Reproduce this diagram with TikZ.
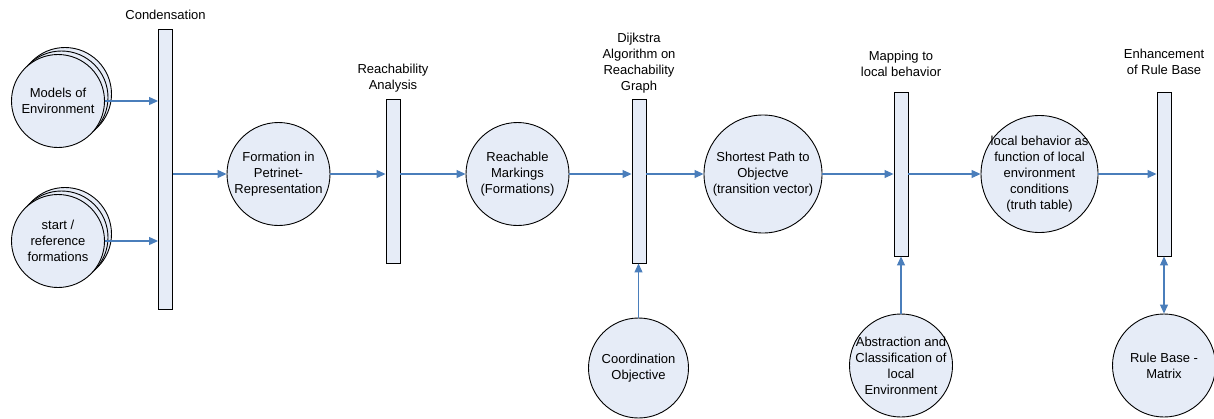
\documentclass[tikz,border=0pt]{standalone}
\usepackage{fontspec}
\setmainfont{Liberation Sans}
\usetikzlibrary{arrows.meta}
\definecolor{flowblue}{HTML}{4A7EBB}
\definecolor{boxfill}{HTML}{E6ECF7}
\begin{document}
\begin{tikzpicture}[x=1pt,y=-1pt,
  every node/.style={font=\fontsize{13}{16}\selectfont},
  place/.style={circle,draw=black,line width=0.9pt,fill=boxfill,inner sep=0pt,minimum size=#1},
  txt/.style={align=center,inner sep=0pt},
  bar/.style={rectangle,draw=black,line width=0.9pt,fill=boxfill,inner sep=0pt,minimum width=14pt,minimum height=#1},
  flow/.style={draw=flowblue,line width=1.1pt,-{Triangle[length=9pt,width=8pt]}},
  biflow/.style={draw=flowblue,line width=1.1pt,{Triangle[length=9pt,width=8pt]}-{Triangle[length=9pt,width=8pt]}}
]
\useasboundingbox (0,0) rectangle (1214,418);

% transitions (bars)
\node[bar=280] (cond) at (165.5,169) {};
\node[bar=164] (reach) at (393,181) {};
\node[bar=164] (dijk) at (639,181) {};
\node[bar=164] (map) at (901,174) {};
\node[bar=164] (enh) at (1164,174) {};

% transition labels
\node[txt] (condL) at (165.5,15) {Condensation};
\node[txt] (reachL) at (393,78.5) {Reachability\\Analysis};
\node[txt] (dijkL) at (639,63.5) {Dijkstra\\Algorithm on\\Reachability\\Graph};
\node[txt] (mapL) at (901,64) {Mapping to\\local behavior};
\node[txt] (enhL) at (1164,62) {Enhancement\\of Rule Base};

% stacked inputs
\node[place=93] (modelsB) at (65,94) {};
\node[place=93] (modelsA) at (61.5,97.5) {};
\node[place=93] (models) at (58,101) {};
\node[txt] at (models.center) {Models of\\Environment};

\node[place=93] (startB) at (65,234) {};
\node[place=93] (startA) at (61.5,237.5) {};
\node[place=93] (start) at (58,241) {};
\node[txt] at (start.center) {start /\\reference\\formations};

% places on the main line
\node[place=103] (form) at (278.5,174) {};
\node[txt] at (form.center) {Formation in\\Petrinet-\\Representation};
\node[place=103] (mark) at (517.5,174) {};
\node[txt] at (mark.center) {Reachable\\Markings\\(Formations)};
\node[place=118] (short) at (763,174) {};
\node[txt] at (short.center) {Shortest Path to\\Objectve\\(transition vector)};
\node[place=117] (loc) at (1039.5,174) {};
\node[txt] at (loc.center) {local behavior as\\function of local\\environment\\conditions\\(truth table)};

% side inputs
\node[place=100] (coord) at (638.5,368) {};
\node[txt] at (coord.center) {Coordination\\Objective};
\node[place=103] (abstr) at (901,365.5) {};
\node[txt] at (abstr.center) {Abstraction and\\Classification of\\local\\Environment};
\node[place=103] (rule) at (1164,365.5) {};
\node[txt] at (rule.center) {Rule Base -\\Matrix};

% connectors
\draw[flow] (models) -- (models -| cond.west);
\draw[flow] (start) -- (start -| cond.west);
\draw[flow] (cond.east |- form) -- (form);
\draw[flow] (form) -- (form -| reach.west);
\draw[flow] (reach.east |- mark) -- (mark);
\draw[flow] (mark) -- (mark -| dijk.west);
\draw[flow] (dijk.east |- short) -- (short);
\draw[flow] (short) -- (short -| map.west);
\draw[flow] (map.east |- loc) -- (loc);
\draw[flow] (loc) -- (loc -| enh.west);
\draw[flow] (coord.north) -- (coord.north |- dijk.south);
\draw[flow] (abstr.north) -- (abstr.north |- map.south);
\draw[biflow] (rule.north) -- (rule.north |- enh.south);
\end{tikzpicture}
\end{document}
